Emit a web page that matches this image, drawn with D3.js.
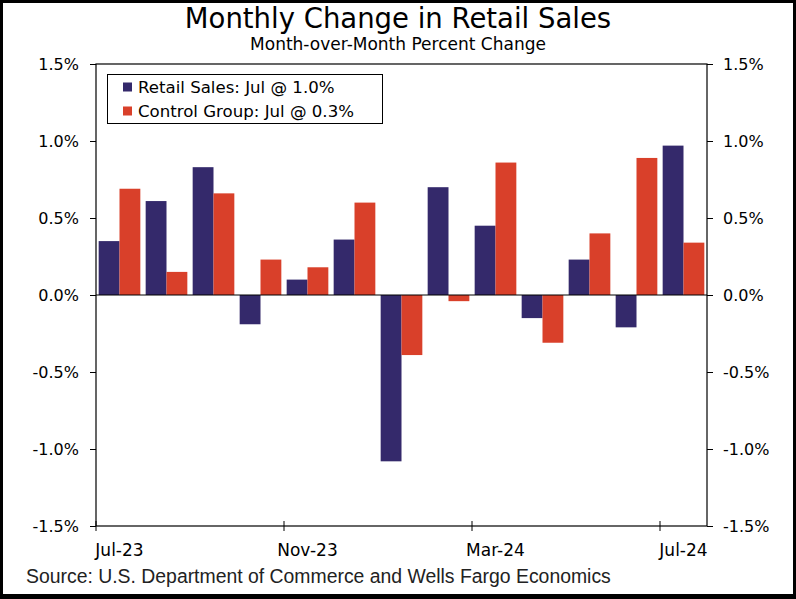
<!DOCTYPE html>
<html>
<head>
<meta charset="utf-8">
<script src="https://cdn.jsdelivr.net/npm/d3@7"></script>
<style>
  html, body { margin: 0; padding: 0; background: #fff; }
  svg { display: block; }
</style>
</head>
<body>
<svg id="chart" width="796" height="599"></svg>
<script>
const months = ["Jul-23","Aug-23","Sep-23","Oct-23","Nov-23","Dec-23","Jan-24","Feb-24","Mar-24","Apr-24","May-24","Jun-24","Jul-24"];
const retailSales = [0.35, 0.61, 0.83, -0.19, 0.10, 0.36, -1.08, 0.70, 0.45, -0.15, 0.23, -0.21, 0.97];
const controlGroup = [0.69, 0.15, 0.66, 0.23, 0.18, 0.60, -0.39, -0.04, 0.86, -0.31, 0.40, 0.89, 0.34];
const yTicks = [-1.5, -1.0, -0.5, 0.0, 0.5, 1.0, 1.5];
const xTickLabels = ["Jul-23","Nov-23","Mar-24","Jul-24"];
const seriesNames = ["Retail Sales: Jul @ 1.0%", "Control Group: Jul @ 0.3%"];
const colors = ["#34296B", "#D9402A"];

const svg = d3.select("#chart");
const W = 796, H = 599;
const m = {left: 96, right: 89, top: 64, bottom: 73};
const x0 = m.left, x1 = W - m.right, y0 = m.top, y1 = H - m.bottom;

const x = d3.scaleBand().domain(months).range([x0, x1]).paddingInner(0).paddingOuter(0);
const inner = d3.scaleBand().domain([0,1]).range([0, x.bandwidth()]).paddingOuter(0.128).paddingInner(0);
const y = d3.scaleLinear().domain([-1.5, 1.5]).range([y1, y0]);

const font = "'DejaVu Sans', Verdana, sans-serif";

// outer border
svg.append("rect").attr("x", 1.5).attr("y", 1.5).attr("width", W - 3).attr("height", H - 3)
  .attr("fill", "none").attr("stroke", "#000").attr("stroke-width", 3);
svg.append("rect").attr("x", 0).attr("y", H - 5).attr("width", W).attr("height", 5).attr("fill", "#000");

// title
svg.append("text").attr("x", W/2).attr("y", 28).attr("text-anchor", "middle")
  .attr("font-family", font).attr("font-size", 27.5).attr("fill", "#000")
  .text("Monthly Change in Retail Sales");
svg.append("text").attr("x", W/2).attr("y", 50).attr("text-anchor", "middle")
  .attr("font-family", font).attr("font-size", 17).attr("fill", "#000")
  .text("Month-over-Month Percent Change");

// bars
const series = [retailSales, controlGroup];
series.forEach((vals, si) => {
  svg.append("g").selectAll("rect").data(months).join("rect")
    .attr("x", (d) => x(d) + inner(si))
    .attr("width", inner.bandwidth())
    .attr("y", (d, i) => y(Math.max(0, vals[i])))
    .attr("height", (d, i) => Math.abs(y(vals[i]) - y(0)))
    .attr("fill", colors[si]);
});

// zero line
svg.append("line").attr("x1", x0).attr("x2", x1).attr("y1", y(0)).attr("y2", y(0))
  .attr("stroke", "#000").attr("stroke-width", 1);

// frame
svg.append("rect").attr("x", x0).attr("y", y0).attr("width", x1 - x0).attr("height", y1 - y0)
  .attr("fill", "none").attr("stroke", "#000").attr("stroke-width", 1.2);

const fmt = d => d3.format(".1f")(d).replace("\u2212", "-") + "%";

// left axis
const gl = svg.append("g").attr("transform", `translate(${x0},0)`)
  .call(d3.axisLeft(y).tickValues(yTicks).tickFormat(fmt).tickSizeInner(6).tickSizeOuter(0).tickPadding(11));
// right axis
const gr = svg.append("g").attr("transform", `translate(${x1},0)`)
  .call(d3.axisRight(y).tickValues(yTicks).tickFormat(fmt).tickSizeInner(6).tickSizeOuter(0).tickPadding(10));
[gl, gr].forEach(g => {
  g.select(".domain").remove();
  g.selectAll("text").attr("font-family", font).attr("font-size", 16).attr("fill", "#000");
  g.selectAll("line").attr("stroke", "#000");
});

// x axis: ticks at band starts, labels at band centers
const gx = svg.append("g").attr("transform", `translate(0,${y1})`);
gx.selectAll("line").data(xTickLabels).join("line")
  .attr("x1", d => x(d)).attr("x2", d => x(d)).attr("y1", -5).attr("y2", 5)
  .attr("stroke", "#000");
gx.selectAll("text").data(xTickLabels).join("text")
  .attr("x", d => x(d) + x.bandwidth()/2).attr("y", 30)
  .attr("text-anchor", "middle").attr("font-family", font).attr("font-size", 17).attr("fill", "#000")
  .text(d => d);

// legend
const lg = svg.append("g");
lg.append("rect").attr("x", 107.5).attr("y", 74.5).attr("width", 275).attr("height", 49)
  .attr("fill", "#fff").attr("stroke", "#000").attr("stroke-width", 1);
seriesNames.forEach((n, i) => {
  const cy = 87 + i * 24;
  lg.append("rect").attr("x", 123).attr("y", cy - 4.5).attr("width", 9).attr("height", 9).attr("fill", colors[i]);
  lg.append("text").attr("x", 138).attr("y", cy + 6).attr("font-family", font).attr("font-size", 16.6)
    .attr("fill", "#000").text(n);
});

// source
svg.append("text").attr("x", 26).attr("y", 583).attr("font-family", "'Liberation Sans', Arial, sans-serif")
  .attr("font-size", 19.4).attr("fill", "#222")
  .text("Source: U.S. Department of Commerce and Wells Fargo Economics");
</script>
</body>
</html>
